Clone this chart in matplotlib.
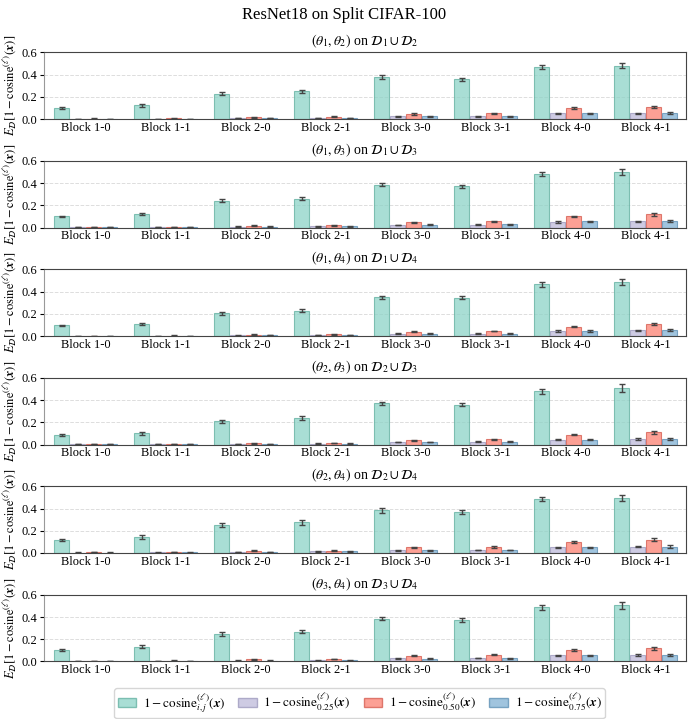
import numpy as np
import matplotlib
matplotlib.use('Agg')
import matplotlib.pyplot as plt
from matplotlib.patches import Patch

plt.rcParams['font.family'] = ['Liberation Serif', 'DejaVu Serif']
plt.rcParams['mathtext.fontset'] = 'stix'

blocks = ['Block 1-0', 'Block 1-1', 'Block 2-0', 'Block 2-1',
          'Block 3-0', 'Block 3-1', 'Block 4-0', 'Block 4-1']

panel_titles = [
    r'$(\theta_1, \theta_2)$ on $\mathcal{D}_1 \cup \mathcal{D}_2$',
    r'$(\theta_1, \theta_3)$ on $\mathcal{D}_1 \cup \mathcal{D}_3$',
    r'$(\theta_1, \theta_4)$ on $\mathcal{D}_1 \cup \mathcal{D}_4$',
    r'$(\theta_2, \theta_3)$ on $\mathcal{D}_2 \cup \mathcal{D}_3$',
    r'$(\theta_2, \theta_4)$ on $\mathcal{D}_2 \cup \mathcal{D}_4$',
    r'$(\theta_3, \theta_4)$ on $\mathcal{D}_3 \cup \mathcal{D}_4$',
]

# mean values, one row per panel
cos_ij = [
    [0.100, 0.125, 0.230, 0.250, 0.375, 0.360, 0.470, 0.480],
    [0.100, 0.120, 0.240, 0.260, 0.385, 0.370, 0.485, 0.500],
    [0.095, 0.110, 0.205, 0.230, 0.350, 0.345, 0.465, 0.485],
    [0.085, 0.100, 0.210, 0.240, 0.370, 0.360, 0.480, 0.510],
    [0.115, 0.145, 0.250, 0.275, 0.385, 0.370, 0.485, 0.495],
    [0.105, 0.135, 0.250, 0.270, 0.385, 0.375, 0.490, 0.505],
]
cos_25 = [
    [0.002, 0.003, 0.008, 0.010, 0.025, 0.025, 0.050, 0.050],
    [0.002, 0.002, 0.008, 0.010, 0.022, 0.027, 0.050, 0.055],
    [0.002, 0.002, 0.006, 0.009, 0.020, 0.022, 0.045, 0.050],
    [0.002, 0.002, 0.005, 0.008, 0.022, 0.025, 0.045, 0.050],
    [0.004, 0.005, 0.010, 0.015, 0.025, 0.028, 0.050, 0.058],
    [0.003, 0.004, 0.008, 0.010, 0.028, 0.030, 0.055, 0.058],
]
cos_50 = [
    [0.004, 0.005, 0.016, 0.020, 0.045, 0.050, 0.100, 0.110],
    [0.003, 0.004, 0.017, 0.020, 0.048, 0.055, 0.100, 0.120],
    [0.003, 0.004, 0.012, 0.015, 0.038, 0.045, 0.085, 0.108],
    [0.003, 0.004, 0.012, 0.015, 0.040, 0.048, 0.090, 0.110],
    [0.006, 0.008, 0.020, 0.022, 0.050, 0.055, 0.100, 0.120],
    [0.005, 0.007, 0.018, 0.022, 0.052, 0.060, 0.105, 0.120],
]
cos_75 = [
    [0.002, 0.003, 0.008, 0.010, 0.025, 0.025, 0.050, 0.055],
    [0.002, 0.002, 0.009, 0.010, 0.025, 0.030, 0.055, 0.062],
    [0.002, 0.002, 0.007, 0.009, 0.020, 0.022, 0.045, 0.055],
    [0.002, 0.002, 0.006, 0.008, 0.022, 0.025, 0.045, 0.050],
    [0.004, 0.005, 0.010, 0.015, 0.025, 0.028, 0.050, 0.058],
    [0.003, 0.004, 0.008, 0.010, 0.025, 0.028, 0.055, 0.060],
]

# error bar half-widths
err_ij = [
    [0.010, 0.012, 0.015, 0.015, 0.018, 0.014, 0.015, 0.022],
    [0.008, 0.010, 0.014, 0.016, 0.015, 0.012, 0.018, 0.030],
    [0.008, 0.010, 0.012, 0.014, 0.015, 0.012, 0.020, 0.028],
    [0.007, 0.012, 0.015, 0.016, 0.016, 0.014, 0.022, 0.035],
    [0.010, 0.015, 0.018, 0.020, 0.020, 0.018, 0.020, 0.025],
    [0.010, 0.012, 0.016, 0.016, 0.015, 0.016, 0.022, 0.028],
]
err_25 = [
    [0.001, 0.001, 0.002, 0.002, 0.003, 0.003, 0.005, 0.007],
    [0.001, 0.001, 0.002, 0.002, 0.003, 0.003, 0.005, 0.008],
    [0.001, 0.001, 0.002, 0.002, 0.003, 0.003, 0.005, 0.007],
    [0.001, 0.001, 0.002, 0.002, 0.003, 0.003, 0.005, 0.010],
    [0.001, 0.001, 0.002, 0.002, 0.003, 0.003, 0.006, 0.007],
    [0.001, 0.001, 0.002, 0.002, 0.003, 0.003, 0.005, 0.009],
]
err_50 = [
    [0.001, 0.001, 0.003, 0.003, 0.005, 0.006, 0.008, 0.012],
    [0.001, 0.001, 0.003, 0.003, 0.005, 0.005, 0.008, 0.015],
    [0.001, 0.001, 0.003, 0.003, 0.004, 0.004, 0.006, 0.012],
    [0.001, 0.001, 0.003, 0.003, 0.004, 0.005, 0.008, 0.015],
    [0.001, 0.002, 0.003, 0.003, 0.006, 0.006, 0.010, 0.012],
    [0.001, 0.002, 0.003, 0.003, 0.005, 0.005, 0.008, 0.015],
]
err_75 = [
    [0.001, 0.001, 0.002, 0.002, 0.003, 0.003, 0.005, 0.008],
    [0.001, 0.001, 0.002, 0.002, 0.003, 0.003, 0.005, 0.010],
    [0.001, 0.001, 0.002, 0.002, 0.003, 0.003, 0.005, 0.008],
    [0.001, 0.001, 0.002, 0.002, 0.003, 0.003, 0.005, 0.010],
    [0.001, 0.001, 0.002, 0.002, 0.003, 0.003, 0.006, 0.010],
    [0.001, 0.001, 0.002, 0.002, 0.003, 0.003, 0.005, 0.010],
]

series_labels = [
    r'$1 - \mathrm{cosine}_{i,j}^{(\ell)}(\boldsymbol{x})$',
    r'$1 - \mathrm{cosine}_{0.25}^{(\ell)}(\boldsymbol{x})$',
    r'$1 - \mathrm{cosine}_{0.50}^{(\ell)}(\boldsymbol{x})$',
    r'$1 - \mathrm{cosine}_{0.75}^{(\ell)}(\boldsymbol{x})$',
]
face_colors = ['#8dd3c7', '#bebada', '#fb8072', '#80b1d3']
edge_colors = ['#5fae9f', '#9a96bb', '#d4594c', '#5a8db3']

means = [cos_ij, cos_25, cos_50, cos_75]
errs = [err_ij, err_25, err_50, err_75]

fig, axes = plt.subplots(6, 1, figsize=(6.89, 7.19), dpi=100)
fig.subplots_adjust(left=0.064, right=0.995, top=0.927, bottom=0.08, hspace=0.63)
fig.suptitle('ResNet18 on Split CIFAR-100', fontsize=12, y=0.99)

x = np.arange(len(blocks))
width = 0.18
offsets = [-0.3, -0.1, 0.1, 0.3]

for p, ax in enumerate(axes):
    for s in range(4):
        ax.bar(x + offsets[s], means[s][p], width, yerr=errs[s][p],
               color=face_colors[s], alpha=0.75, edgecolor=edge_colors[s],
               linewidth=0.8, capsize=2.5,
               error_kw=dict(ecolor='#444444', elinewidth=1.0, capthick=1.0),
               zorder=2)
    ax.set_ylim(0, 0.6)
    ax.set_yticks([0.0, 0.2, 0.4, 0.6])
    ax.set_xlim(-0.52, 7.5)
    ax.set_xticks(x)
    ax.set_xticklabels(blocks, fontsize=9)
    ax.tick_params(axis='x', length=0, pad=2)
    ax.tick_params(axis='y', labelsize=9, length=3, pad=2)
    ax.yaxis.grid(True, linestyle='--', color='#dddddd', linewidth=0.7, zorder=0)
    ax.set_axisbelow(True)
    for sp in ax.spines.values():
        sp.set_color('#444444')
    ax.spines['left'].set_color('#999999')
    ax.set_title(panel_titles[p], fontsize=10, pad=5)
    ax.set_ylabel(r'$E_{\mathcal{D}}[1 - \mathrm{cosine}^{(\ell)}(\boldsymbol{x})]$',
                  fontsize=9, labelpad=2)

handles = [Patch(facecolor=face_colors[s], edgecolor=edge_colors[s], alpha=0.75,
                 label=series_labels[s]) for s in range(4)]
fig.legend(handles=handles, loc='lower center', ncol=4, fontsize=9.5,
           bbox_to_anchor=(0.522, -0.008), frameon=True, edgecolor='#cccccc',
           handlelength=1.4, columnspacing=1.0, handletextpad=0.5,
           borderpad=0.25, fancybox=True)

fig.savefig('out.png', dpi=100)
